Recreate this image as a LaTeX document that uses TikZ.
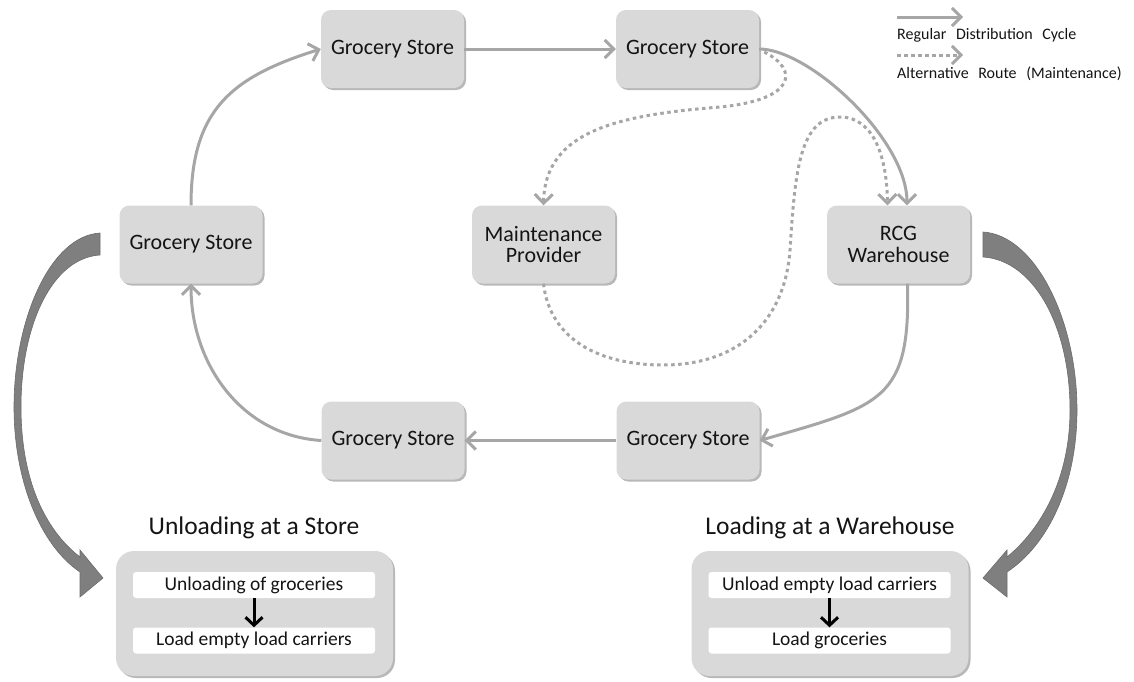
\documentclass[tikz,border=0pt]{standalone}
\usepackage{fontspec}
\setmainfont{Carlito}
\usetikzlibrary{arrows.meta,shadows}
\definecolor{boxgray}{HTML}{D9D9D9}
\definecolor{linegray}{HTML}{A6A6A6}
\definecolor{biggray}{HTML}{7F7F7F}
\definecolor{txt}{HTML}{141414}
\begin{document}
\begin{tikzpicture}[x=1pt,y=-1pt,
  boxshadow/.style={drop shadow={shadow xshift=2pt,shadow yshift=-2pt,fill=black,opacity=0.28}},
  stationbox/.style={draw=none, fill=boxgray, rounded corners=10pt, minimum width=143pt,
    minimum height=78pt, align=center, text=txt, font=\fontsize{22}{21.5}\selectfont, boxshadow},
  bigbox/.style={draw=none, fill=boxgray, rounded corners=18pt, minimum width=277pt,
    minimum height=125pt, boxshadow},
  stepbox/.style={draw=none, fill=white, rounded corners=3pt, minimum width=242pt,
    minimum height=26pt, inner sep=0pt, text=txt, font=\fontsize{19.5}{22}\selectfont},
  titletext/.style={anchor=base, text=txt, font=\fontsize{25.5}{28}\selectfont, inner sep=0pt},
  legendtext/.style={anchor=base west, text=txt, font=\fontsize{16}{18}\selectfont, inner sep=0pt},
  cyclearrow/.style={draw=linegray, line width=3pt, -{Straight Barb[length=9pt,width=18pt]}},
  altarrow/.style={draw=linegray, line width=3pt, dash pattern=on 3.5pt off 3.5pt,
    -{Straight Barb[length=9pt,width=18pt]}},
  blackarrow/.style={draw=black, line width=3pt, -{Straight Barb[length=8pt,width=17pt]}},
  bigarrow/.style={fill=biggray, draw=biggray!85!black, line width=0.6pt}
]
\useasboundingbox (0,0) rectangle (1134,681);

% station nodes
\node[stationbox] (gsTL) at (392.5,49) {Grocery Store};
\node[stationbox] (gsTM) at (687.5,49) {Grocery Store};
\node[stationbox] (gsL)  at (191,244.5) {Grocery Store};
\node[stationbox] (mp)   at (543.5,244.5) {Maintenance\\Provider};
\node[stationbox] (rcg)  at (898.5,244.5) {RCG\\Warehouse};
\node[stationbox] (gsBR) at (688,440.5) {Grocery Store};
\node[stationbox] (gsBL) at (393,440.5) {Grocery Store};

% regular cycle
\draw[cyclearrow] (gsL.north) .. controls +(0,-95) and +(-90,28) .. (gsTL.west);
\draw[cyclearrow] (gsTL.east) -- (gsTM.west);
\draw[cyclearrow] (gsTM.east) .. controls +(50,0) and +(0,-66) .. ([xshift=8.5pt]rcg.north);
\draw[cyclearrow] ([xshift=9pt]rcg.south) .. controls +(3,117) and +(122,-35) .. (gsBR.east);
\draw[cyclearrow] (gsBR.west) -- (gsBL.east);
\draw[cyclearrow] (gsBL.west) .. controls +(-80,-5) and +(0,80) .. (gsL.south);

% alternative route
\draw[altarrow] ([xshift=5pt,yshift=-3pt]gsTM.east) .. controls (800,70) and (795,100) .. (720,107)
  .. controls (620,115) and (545,130) .. (mp.north);
\draw[altarrow] (mp.south) .. controls (550,340) and (600,365) .. (663,365)
  .. controls (740,365) and (785,320) .. (790,250)
  .. controls (795,170) and (800,117) .. (840,117)
  .. controls (875,117) and (887,160) .. ([xshift=-11pt]rcg.north);

% legend
\coordinate (lg1a) at (897,17);
\coordinate (lg1b) at (963,17);
\coordinate (lg2a) at (897,55);
\coordinate (lg2b) at (963,55);
\draw[cyclearrow] (lg1a) -- (lg1b);
\draw[altarrow] (lg2a) -- (lg2b);
\node[legendtext] (lgt1) at (897,39) {Regular\hspace{0.6em}Distribution\hspace{0.6em}Cycle};
\node[legendtext] (lgt2) at (897,78) {Alternative\hspace{0.6em}Route\hspace{0.6em}(Maintenance)};

% bottom panels
\node[titletext] (t1) at (254,534) {Unloading at a Store};
\node[titletext] (t2) at (830,534) {Loading at a Warehouse};
\node[bigbox] (store) at (254.5,613.5) {};
\node[bigbox] (wh) at (830,613.5) {};
\node[stepbox] (s1) at (254,585) {Unloading of groceries};
\node[stepbox] (s2) at (254,640.5) {Load empty load carriers};
\node[stepbox] (w1) at (829.5,585) {Unload empty load carriers};
\node[stepbox] (w2) at (829.5,640.5) {Load groceries};
\draw[blackarrow] (s1.south) -- (s2.north);
\draw[blackarrow] (w1.south) -- (w2.north);

% big curved arrows
\fill[bigarrow] (100,233) .. controls (50,236) and (14,320) .. (14,407)
  .. controls (14,480) and (40,545) .. (80,572)
  -- (80,597) -- (103,578) -- (80,550) -- (80,557)
  .. controls (45,530) and (21,480) .. (21,407)
  .. controls (21,325) and (52,258) .. (100,255) -- cycle;
\fill[bigarrow] (983,232) .. controls (1035,235) and (1077,320) .. (1077,410)
  .. controls (1077,485) and (1048,545) .. (1007,572)
  -- (1007,597) -- (983,578) -- (1007,550) -- (1007,557)
  .. controls (1040,530) and (1070,480) .. (1070,410)
  .. controls (1070,325) and (1033,260) .. (983,257) -- cycle;
\end{tikzpicture}
\end{document}
